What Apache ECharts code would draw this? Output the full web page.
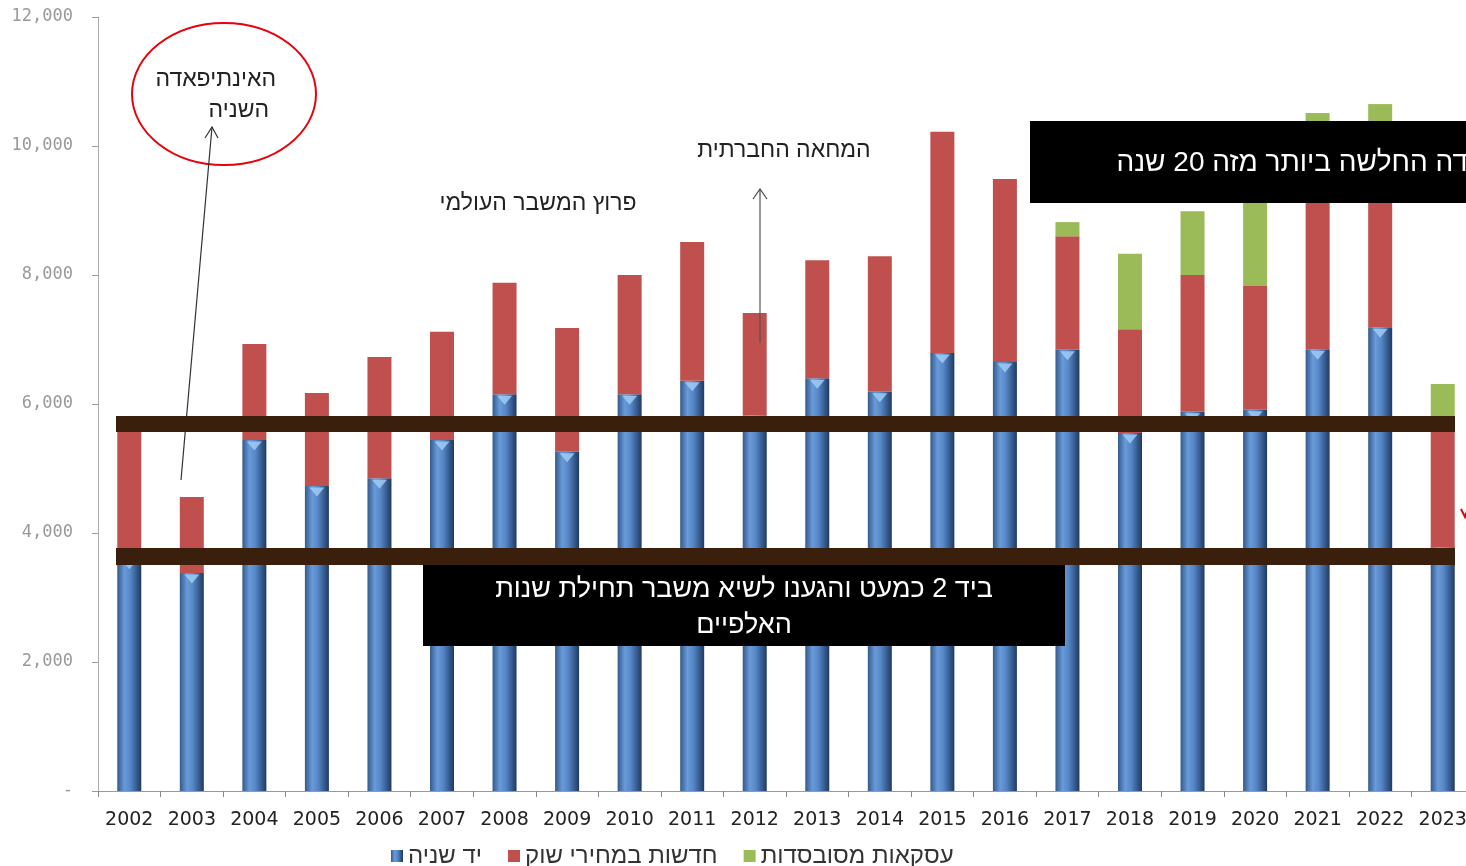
<!DOCTYPE html>
<html>
<head>
<meta charset="utf-8">
<script src="https://cdn.jsdelivr.net/npm/echarts@6/dist/echarts.min.js"></script>
<style>
html,body{margin:0;padding:0;background:#fff;overflow:hidden;}
#c{width:1474px;height:866px;}
</style>
</head>
<body>
<div id="c"></div>
<script>
const years = ['2002','2003','2004','2005','2006','2007','2008','2009','2010','2011','2012','2013','2014','2015','2016','2017','2018','2019','2020','2021','2022','2023'];
const secondHand = [3600,3380,5440,4730,4850,5440,6150,5260,6150,6360,5820,6400,6190,6790,6650,6840,5550,5880,5910,6850,7190,3780];
const newMarket = [2100,1180,1490,1440,1880,1680,1730,1920,1850,2150,1590,1830,2100,3430,2840,1760,1610,2120,1920,3050,3010,2020];
const subsidized = [0,0,0,0,0,0,0,0,0,0,0,0,0,0,0,220,1170,990,1770,610,450,510];
const seriesNames = ['יד שניה','חדשות במחירי שוק','עסקאות מסובסדות'];
const yTicks = {min:0, max:12000, interval:2000};

const chart = echarts.init(document.getElementById('c'), null, {renderer:'canvas'});
const heb = '"Liberation Sans","DejaVu Sans",sans-serif';
const blueGrad = new echarts.graphic.LinearGradient(0,0,1,0,[
  {offset:0,color:'#335a8c'},{offset:0.3,color:'#6a9ad8'},{offset:0.55,color:'#5586c6'},{offset:1,color:'#1f3a62'}
]);
const option = {
  animation:false,
  backgroundColor:'#fff',
  grid:{left:98, top:17, bottom:75, right:0, containLabel:false},
  legend:{
    data:seriesNames, left:386, top:839, itemWidth:12, itemHeight:12, itemGap:26, icon:'rect',
    textStyle:{fontFamily:heb, fontSize:24, color:'#333'}
  },
  xAxis:{
    type:'category', data:years,
    axisLine:{lineStyle:{color:'#999'}},
    axisTick:{show:true, length:6, lineStyle:{color:'#888'}},
    axisLabel:{interval:0, fontFamily:'"DejaVu Sans",sans-serif', fontSize:19, color:'#222', margin:20}
  },
  yAxis:{
    type:'value', min:yTicks.min, max:yTicks.max, interval:yTicks.interval,
    splitLine:{show:false},
    axisLine:{show:true, lineStyle:{color:'#aaa'}},
    axisTick:{show:true, length:6, lineStyle:{color:'#999'}},
    axisLabel:{fontFamily:'"DejaVu Sans Mono",monospace', fontSize:17, color:'#999', margin:25,
      formatter:v=> v===0 ? '-' : v.toLocaleString('en-US')}
  },
  series:[
    {name:seriesNames[0], type:'bar', stack:'s', data:secondHand, barWidth:24, itemStyle:{color:blueGrad}},
    {name:seriesNames[1], type:'bar', stack:'s', data:newMarket, barWidth:24, itemStyle:{color:'#c0504d'}},
    {name:seriesNames[2], type:'bar', stack:'s', data:subsidized, barWidth:24, itemStyle:{color:'#9bbb59'}},
    {name:'top', type:'scatter', data:secondHand, symbol:'triangle', symbolRotate:180, symbolSize:[15,9],
      symbolOffset:[0,6], itemStyle:{color:'#9fcbf3', opacity:0.85}, silent:true, z:3}
  ],
  graphic:[
    {type:'ellipse', z:100, shape:{cx:224, cy:94, rx:92, ry:71}, style:{fill:null, stroke:'#e8000b', lineWidth:2}},
    {type:'text', z:100, x:276, y:80, style:{text:'האינתיפאדה', font:'23px '+heb, fill:'#222', textAlign:'right', textVerticalAlign:'middle'}},
    {type:'text', z:100, x:269, y:111, style:{text:'השניה', font:'23px '+heb, fill:'#222', textAlign:'right', textVerticalAlign:'middle'}},
    {type:'polyline', z:100, shape:{points:[[181,480],[212,127]]}, style:{stroke:'#333', lineWidth:1.2}},
    {type:'polyline', z:100, shape:{points:[[205,138],[212,127],[218,138]]}, style:{stroke:'#333', lineWidth:1.2, fill:null}},
    {type:'text', z:100, x:538, y:204, style:{text:'פרוץ המשבר העולמי', font:'23px '+heb, fill:'#222', textAlign:'center', textVerticalAlign:'middle'}},
    {type:'text', z:100, x:784, y:151, style:{text:'המחאה החברתית', font:'23px '+heb, fill:'#222', textAlign:'center', textVerticalAlign:'middle'}},
    {type:'polyline', z:100, shape:{points:[[760,343],[760,189]]}, style:{stroke:'#555', lineWidth:1.2}},
    {type:'polyline', z:100, shape:{points:[[753,199],[760,189],[767,199]]}, style:{stroke:'#444', lineWidth:1.2, fill:null}},
    {type:'rect', z:100, shape:{x:116, y:416, width:1339, height:16}, style:{fill:'#3a1f0c'}},
    {type:'rect', z:100, shape:{x:116, y:548, width:1339, height:17}, style:{fill:'#3a1f0c'}},
    {type:'rect', z:100, shape:{x:1030, y:121, width:444, height:82}, style:{fill:'#000'}},
    {type:'text', z:101, x:1468, y:163, style:{text:'דה החלשה ביותר מזה 20 שנה', font:'28px '+heb, fill:'#fff', textAlign:'right', textVerticalAlign:'middle'}},
    {type:'rect', z:100, shape:{x:423, y:565, width:642, height:81}, style:{fill:'#000'}},
    {type:'text', z:101, x:744, y:590, style:{text:'ביד 2 כמעט והגענו לשיא משבר תחילת שנות', font:'27px '+heb, fill:'#fff', textAlign:'center', textVerticalAlign:'middle'}},
    {type:'text', z:101, x:744, y:626, style:{text:'האלפיים', font:'27px '+heb, fill:'#fff', textAlign:'center', textVerticalAlign:'middle'}},
    {type:'polyline', z:100, shape:{points:[[1461,509],[1465,517],[1467,511]]}, style:{stroke:'#e00000', lineWidth:2, fill:null}}
  ]
};
chart.setOption(option);
</script>
</body>
</html>
